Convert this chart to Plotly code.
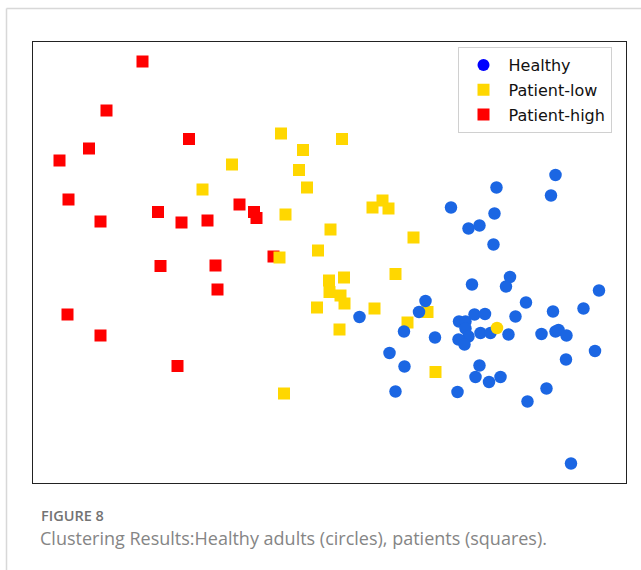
import plotly.graph_objects as go

# Cluster assignment scatter: circles = healthy adults, squares = patients,
# colour = cluster the point was assigned to.

# Patients assigned to the "Patient-high" cluster
high_x = [-3.75, -4.47, -2.82, -4.82, -5.41, -5.23, -4.59, -3.44, -2.97, -2.45,
          -1.81, -1.52, -1.47, -1.13, -3.39, -2.29, -2.25, -5.25, -4.59, -3.05]
high_y = [4.17, 3.19, 2.62, 2.43, 2.19, 1.41, 0.97, 1.16, 0.95, 0.99,
          1.31, 1.16, 1.04, 0.27, 0.08, 0.09, -0.39, -0.89, -1.31, -1.92]

# Patients assigned to the "Patient-low" cluster
low_x = [-2.55, -1.96, -0.98, 0.24, -0.54, -0.62, -0.46, -0.89, 0.01, 0.85,
         1.05, 1.17, 1.67, -0.24, -1.01, -0.02, 0.28, 1.31, -0.01, 0.21,
         0.29, -0.26, 0.89, 0.19, 1.55, -0.92, 1.95, 2.11]
low_y = [1.61, 2.11, 2.73, 2.62, 2.40, 2.00, 1.65, 1.11, 0.81, 1.25,
         1.39, 1.23, 0.65, 0.39, 0.25, -0.21, -0.15, -0.08, -0.44, -0.51,
         -0.67, -0.75, -0.77, -1.19, -1.05, -2.47, -0.84, -2.04]

# Healthy adults (the last one was assigned to the Patient-low cluster)
healthy_x = [4.51, 4.42, 3.33, 2.42, 3.29, 2.77, 2.99, 3.27, 3.60, 3.52,
             2.84, 5.38, 3.92, 5.07, 4.46, 2.89, 3.10, 2.58, 2.71, 3.71,
             2.71, 3.01, 3.21, 2.77, 2.57, 2.69, 3.57, 4.23, 4.51, 4.57,
             4.73, 2.10, 5.30, 4.72, 2.99, 2.91, 3.18, 3.41, 2.55, 4.33,
             3.95, 4.82, 1.91, 0.59, 1.78, 1.48, 1.19, 1.49, 1.31, 3.34]
healthy_y = [1.90, 1.49, 1.65, 1.25, 1.13, 0.83, 0.89, 0.51, -0.14, -0.33,
             -0.29, -0.41, -0.65, -0.77, -0.83, -0.89, -0.88, -1.03, -1.03, -0.93,
             -1.17, -1.26, -1.26, -1.33, -1.39, -1.49, -1.29, -1.28, -1.23, -1.20,
             -1.31, -1.35, -1.62, -1.79, -1.91, -2.14, -2.24, -2.14, -2.44, -2.37,
             -2.63, -3.87, -0.62, -0.94, -0.84, -1.23, -1.66, -1.93, -2.43, -1.16]
healthy_cluster = ["Healthy"] * 49 + ["Patient-low"]

legend_labels = ["Healthy", "Patient-low", "Patient-high"]

POINT_COLORS = {"Healthy": "#1b66e3", "Patient-low": "#ffd700", "Patient-high": "#ff0000"}
LEGEND_COLORS = {"Healthy": "#0000ff", "Patient-low": "#ffd700", "Patient-high": "#ff0000"}
LEGEND_SYMBOLS = {"Healthy": "circle", "Patient-low": "square", "Patient-high": "square"}

fig = go.Figure()

fig.add_trace(go.Scatter(
    x=high_x, y=high_y, mode="markers", showlegend=False, hoverinfo="skip",
    marker=dict(symbol="square", size=12, color=POINT_COLORS["Patient-high"], line_width=0),
))
fig.add_trace(go.Scatter(
    x=low_x, y=low_y, mode="markers", showlegend=False, hoverinfo="skip",
    marker=dict(symbol="square", size=12, color=POINT_COLORS["Patient-low"], line_width=0),
))
fig.add_trace(go.Scatter(
    x=healthy_x, y=healthy_y, mode="markers", showlegend=False, hoverinfo="skip",
    marker=dict(symbol="circle", size=12.5,
                color=[POINT_COLORS[c] for c in healthy_cluster], line_width=0),
))

# Legend-only entries
for i, name in enumerate(legend_labels):
    fig.add_trace(go.Scatter(
        x=[None], y=[None], mode="markers", name=name, legendgroup=name,
        marker=dict(symbol=LEGEND_SYMBOLS[name], size=12, color=LEGEND_COLORS[name]),
    ))

W, H = 641, 570
px = lambda v: v / W
py = lambda v: 1 - v / H

axis_common = dict(showgrid=False, zeroline=False, showticklabels=False, ticks="",
                   showline=True, mirror=True, linecolor="#222222", linewidth=1.4)

fig.update_layout(
    width=W, height=H,
    margin=dict(l=0, r=0, t=0, b=0),
    paper_bgcolor="white", plot_bgcolor="white",
    xaxis=dict(domain=[px(32.5), px(625.5)], range=[-5.95, 5.91], **axis_common),
    yaxis=dict(domain=[py(482.7), py(41.7)], range=[-4.254, 4.566], **axis_common),
    legend=dict(
        x=px(457.5), y=py(47), xanchor="left", yanchor="top",
        font=dict(family="DejaVu Sans", size=16, color="#111111"),
        bgcolor="white", bordercolor="#d0d0d0", borderwidth=1,
        itemwidth=40, traceorder="grouped", tracegroupgap=1,
    ),
    shapes=[
        dict(type="line", xref="paper", yref="paper", x0=px(6.5), x1=1.0, y0=py(8.5), y1=py(8.5),
             line=dict(color="#d8d8d8", width=1.5)),
        dict(type="line", xref="paper", yref="paper", x0=px(6.5), x1=px(6.5), y0=py(8.5), y1=0,
             line=dict(color="#d8d8d8", width=1.5)),
    ],
    annotations=[
        dict(text="FIGURE 8", xref="paper", yref="paper", x=px(39), y=py(515.5),
             xanchor="left", yanchor="middle", showarrow=False,
             font=dict(family="Open Sans", size=14.5, color="#737373", weight=600)),
        dict(text="Clustering Results:Healthy adults (circles), patients (squares).",
             xref="paper", yref="paper", x=px(38), y=py(538),
             xanchor="left", yanchor="middle", showarrow=False,
             font=dict(family="Open Sans", size=18, color="#858585")),
    ],
)

fig.write_html("out.html")
